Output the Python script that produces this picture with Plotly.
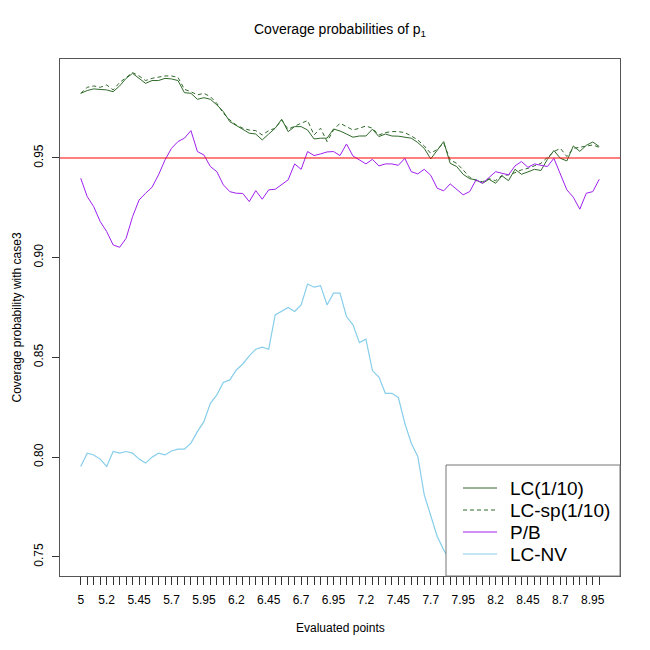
import plotly.graph_objects as go

x_points = [5.0, 5.05, 5.1, 5.15, 5.2, 5.25, 5.3, 5.35, 5.4, 5.45,
            5.5, 5.55, 5.6, 5.65, 5.7, 5.75, 5.8, 5.85, 5.9, 5.95,
            6.0, 6.05, 6.1, 6.15, 6.2, 6.25, 6.3, 6.35, 6.4, 6.45,
            6.5, 6.55, 6.6, 6.65, 6.7, 6.75, 6.8, 6.85, 6.9, 6.95,
            7.0, 7.05, 7.1, 7.15, 7.2, 7.25, 7.3, 7.35, 7.4, 7.45,
            7.5, 7.55, 7.6, 7.65, 7.7, 7.75, 7.8, 7.85, 7.9, 7.95,
            8.0, 8.05, 8.1, 8.15, 8.2, 8.25, 8.3, 8.35, 8.4, 8.45,
            8.5, 8.55, 8.6, 8.65, 8.7, 8.75, 8.8, 8.85, 8.9, 8.95, 9.0]

label_vals = [5.0, 5.2, 5.45, 5.7, 5.95, 6.2, 6.45, 6.7, 6.95,
              7.2, 7.45, 7.7, 7.95, 8.2, 8.45, 8.7, 8.95]
label_text = ["5", "5.2", "5.45", "5.7", "5.95", "6.2", "6.45", "6.7", "6.95",
              "7.2", "7.45", "7.7", "7.95", "8.2", "8.45", "8.7", "8.95"]

y_tick_vals = [0.75, 0.80, 0.85, 0.90, 0.95]
y_tick_text = ["0.75", "0.80", "0.85", "0.90", "0.95"]

lc = [0.9824, 0.9838, 0.9846, 0.9843, 0.9841, 0.9832, 0.9861, 0.9899, 0.9924, 0.9899,
      0.9874, 0.9888, 0.9888, 0.9899, 0.9896, 0.9888, 0.9827, 0.9824, 0.9794, 0.9802,
      0.9794, 0.9766, 0.9732, 0.9682, 0.9662, 0.9640, 0.9624, 0.9620, 0.9590, 0.9620,
      0.9649, 0.9694, 0.9632, 0.9657, 0.9657, 0.9640, 0.9595, 0.9599, 0.9599, 0.9645,
      0.9635, 0.9620, 0.9604, 0.9610, 0.9610, 0.9644, 0.9607, 0.9620, 0.9610, 0.9609,
      0.9604, 0.9599, 0.9577, 0.9548, 0.9495, 0.9537, 0.9582, 0.9473, 0.9457, 0.9418,
      0.9396, 0.9390, 0.9373, 0.9393, 0.9373, 0.9410, 0.9386, 0.9443, 0.9418, 0.9430,
      0.9443, 0.9437, 0.9493, 0.9537, 0.9498, 0.9485, 0.9560, 0.9533, 0.9563, 0.9580,
      0.9557]

lc_sp = [0.9824, 0.9854, 0.9861, 0.9854, 0.9866, 0.9841, 0.9878, 0.9904, 0.9928, 0.9911,
         0.9888, 0.9899, 0.9904, 0.9911, 0.9911, 0.9904, 0.9844, 0.9832, 0.9816, 0.9824,
         0.9807, 0.9774, 0.9724, 0.9690, 0.9665, 0.9649, 0.9640, 0.9637, 0.9615, 0.9637,
         0.9649, 0.9690, 0.9644, 0.9660, 0.9674, 0.9687, 0.9615, 0.9649, 0.9582, 0.9640,
         0.9674, 0.9657, 0.9640, 0.9649, 0.9660, 0.9649, 0.9615, 0.9627, 0.9632, 0.9632,
         0.9627, 0.9610, 0.9590, 0.9560, 0.9523, 0.9543, 0.9574, 0.9490, 0.9473, 0.9440,
         0.9403, 0.9386, 0.9381, 0.9396, 0.9386, 0.9413, 0.9415, 0.9426, 0.9440, 0.9448,
         0.9460, 0.9473, 0.9503, 0.9532, 0.9548, 0.9507, 0.9548, 0.9553, 0.9560, 0.9565,
         0.9553]

pb = [0.9398, 0.9306, 0.9256, 0.9181, 0.9131, 0.9064, 0.9052, 0.9097, 0.9206, 0.9289,
      0.9323, 0.9353, 0.9415, 0.9490, 0.9548, 0.9582, 0.9599, 0.9637, 0.9532, 0.9515,
      0.9457, 0.9431, 0.9365, 0.9331, 0.9323, 0.9322, 0.9281, 0.9336, 0.9293, 0.9340,
      0.9343, 0.9365, 0.9390, 0.9470, 0.9443, 0.9532, 0.9512, 0.9520, 0.9530, 0.9532,
      0.9512, 0.9570, 0.9510, 0.9490, 0.9470, 0.9493, 0.9460, 0.9470, 0.9470, 0.9463,
      0.9498, 0.9431, 0.9420, 0.9443, 0.9413, 0.9348, 0.9335, 0.9370, 0.9340, 0.9315,
      0.9331, 0.9390, 0.9373, 0.9403, 0.9431, 0.9423, 0.9415, 0.9460, 0.9482, 0.9453,
      0.9470, 0.9463, 0.9457, 0.9498, 0.9415, 0.9340, 0.9303, 0.9243, 0.9323, 0.9331,
      0.9393]

lc_nv = [0.7953, 0.8020, 0.8011, 0.7990, 0.7953, 0.8028, 0.8020, 0.8028, 0.8020, 0.7990,
         0.7970, 0.8000, 0.8020, 0.8011, 0.8031, 0.8040, 0.8040, 0.8070, 0.8128, 0.8178,
         0.8270, 0.8312, 0.8374, 0.8387, 0.8437, 0.8467, 0.8508, 0.8541, 0.8551, 0.8541,
         0.8713, 0.8730, 0.8750, 0.8730, 0.8763, 0.8868, 0.8852, 0.8860, 0.8763, 0.8822,
         0.8822, 0.8705, 0.8663, 0.8574, 0.8591, 0.8434, 0.8401, 0.8320, 0.8320, 0.8299,
         0.8170, 0.8070, 0.8003, 0.7811, 0.7711, 0.7602, 0.7535, 0.7480, 0.7450, None,
         None, None, None, None, None, None, None, None, None, None,
         None, None, None, None, None, None, None, None, None, None,
         None]

nominal = 0.95

series_names = ["LC(1/10)", "LC-sp(1/10)", "P/B", "LC-NV"]
series_colors = ["#2f6b2a", "#2f6b2a", "#a020f0", "#87ceeb"]
series_dash = ["solid", "4px,3px", "solid", "solid"]
series_width = [1, 1, 1, 1.2]
series_data = [lc, lc_sp, pb, lc_nv]

# the page body adds an 8px offset; margins below compensate for it
OFF = 8
W, H = 650, 650
ML, MT = 60 - OFF, 59 - OFF
PW, PH = 560, 517
MR = W - ML - PW
MB = H - MT - PH
PLOT_BOTTOM_SCREEN = 576


def px_x(p):
    return (p - 60) / PW


def px_y(p):
    return (PLOT_BOTTOM_SCREEN - p) / PH


fig = go.Figure()
for name, col, dash, wd, ys in zip(series_names, series_colors, series_dash,
                                   series_width, series_data):
    fig.add_trace(go.Scatter(x=x_points, y=ys, mode="lines", name=name,
                             line=dict(color=col, width=wd, dash=dash),
                             showlegend=False))

fig.update_layout(
    width=W, height=H,
    margin=dict(l=ML, r=MR, t=MT, b=MB, autoexpand=False),
    paper_bgcolor="white", plot_bgcolor="white",
    font=dict(family="Liberation Sans, Arial, sans-serif", size=12, color="black"),
    showlegend=False,
)

fig.add_hline(y=nominal, line=dict(color="rgba(255,0,0,0.5)", width=2))

# legend box drawn in the style of R's legend()
fig.add_shape(type="rect", xref="paper", yref="paper",
              x0=px_x(446), x1=1, y0=0, y1=px_y(465),
              fillcolor="white", line=dict(color="#777", width=1), layer="above")
row_y = [488, 510, 532, 554]
for name, col, dash, wd, ry in zip(series_names, series_colors, series_dash,
                                   series_width, row_y):
    fig.add_shape(type="line", xref="paper", yref="paper",
                  x0=px_x(463), x1=px_x(497), y0=px_y(ry), y1=px_y(ry),
                  line=dict(color=col, width=wd, dash=dash), layer="above")
    fig.add_annotation(text=name, xref="paper", yref="paper",
                       x=px_x(508), y=px_y(ry), xanchor="left", yanchor="middle",
                       showarrow=False, font=dict(size=19, color="black"))

fig.add_annotation(text="Coverage probabilities of p<sub>1</sub>",
                   xref="paper", yref="paper", x=0.5, y=1, yshift=59 - 30,
                   xanchor="center", yanchor="middle", showarrow=False,
                   font=dict(size=14, color="black"))
fig.add_annotation(text="Coverage probability with case3",
                   xref="paper", yref="paper", x=0, xshift=-(60 - 16), y=0.5,
                   xanchor="center", yanchor="middle", textangle=-90,
                   showarrow=False, font=dict(size=12, color="black"))
fig.add_annotation(text="Evaluated points",
                   xref="paper", yref="paper", x=0.5, y=0, yshift=-(628 - 576),
                   xanchor="center", yanchor="middle",
                   showarrow=False, font=dict(size=12, color="black"))

fig.update_xaxes(range=[4.84, 9.16], tickmode="array", tickvals=label_vals,
                 ticktext=label_text, ticks="outside", ticklen=8, tickcolor="#333",
                 ticklabelstandoff=5,
                 minor=dict(tickmode="array", tickvals=x_points, ticks="outside",
                            ticklen=8, tickcolor="#333", showgrid=False),
                 showgrid=False, zeroline=False, showline=True, mirror=True,
                 linecolor="#555", linewidth=1, automargin=False,
                 tickfont=dict(size=12))
fig.update_yaxes(range=[0.7404, 0.9996], tickmode="array",
                 tickvals=y_tick_vals, ticktext=y_tick_text,
                 tickangle=-90, ticks="outside", ticklen=7, tickcolor="#333",
                 ticklabelstandoff=4,
                 showgrid=False, zeroline=False, showline=True, mirror=True,
                 linecolor="#555", linewidth=1, automargin=False,
                 tickfont=dict(size=12))

fig.write_html("out.html")
